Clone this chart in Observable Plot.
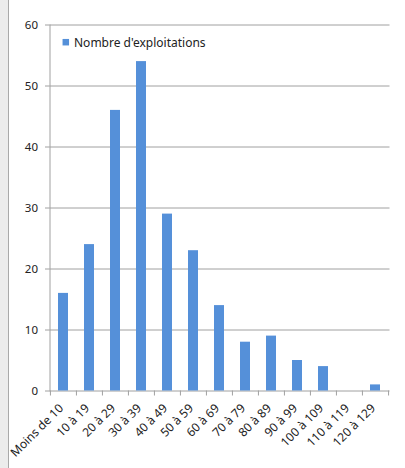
<!DOCTYPE html>
<html>
<head>
<meta charset="utf-8">
<script src="https://cdn.jsdelivr.net/npm/d3@7"></script>
<script src="https://cdn.jsdelivr.net/npm/@observablehq/plot@0.6"></script>
<style>
  html, body { margin: 0; padding: 0; background: #fff; }
  #wrap { position: relative; width: 405px; height: 468px; overflow: hidden; }
  #strip { position: absolute; left: 0; top: 0; width: 8px; height: 468px; background: #ececec; border-right: 1px solid #a9a9a9; z-index: 1; }
</style>
</head>
<body>
<div id="wrap"><div id="strip"></div></div>
<script>
// Farm counts by size class
const categories = ["Moins de 10", "10 à 19", "20 à 29", "30 à 39", "40 à 49", "50 à 59", "60 à 69",
                    "70 à 79", "80 à 89", "90 à 99", "100 à 109", "110 à 119", "120 à 129"];
const counts = [16, 24, 46, 54, 29, 23, 14, 8, 9, 5, 4, 0, 1];
const yTicks = [0, 10, 20, 30, 40, 50, 60];
const seriesName = "Nombre d'exploitations";

const data = categories.map((c, i) => ({classe: c, n: counts[i]}));

const W = 405, H = 468;
const mL = 49.5, mR = 15.5, mT = 24.5, mB = 77.5;
const step = (W - mL - mR) / categories.length;
const axisColor = "#a0a0a0";
const barColor = "#5590d9";
const textColor = "#222";

const chart = Plot.plot({
  width: W,
  height: H,
  marginLeft: mL,
  marginRight: mR,
  marginTop: mT,
  marginBottom: mB,
  style: {background: "transparent", fontFamily: "'Noto Sans', sans-serif", fontSize: "11.5px", color: textColor},
  x: {domain: categories, paddingInner: 0.6, paddingOuter: 0.3, axis: null},
  y: {domain: [0, 60], axis: null},
  marks: [
    // horizontal gridlines (the 0 line doubles as the x axis)
    Plot.ruleY(yTicks, {stroke: axisColor, strokeWidth: 1}),
    Plot.axisY({ticks: yTicks, tickSize: 4.5, tickPadding: 7.5, stroke: axisColor, fill: textColor, label: null}),
    Plot.frame({anchor: "left", stroke: axisColor}),
    Plot.barY(data, {x: "classe", y: "n", fill: barColor}),
    // tick marks at the class boundaries
    Plot.ruleX(categories, {x: d => d, y1: 0, y2: 0, dx: -step / 2, insetBottom: -5, stroke: axisColor}),
    Plot.ruleX(categories.slice(-1), {x: d => d, y1: 0, y2: 0, dx: step / 2, insetBottom: -5, stroke: axisColor}),
    // slanted class labels
    Plot.text(categories, {
      x: d => d, frameAnchor: "bottom", dx: 0.5, dy: 18, rotate: -45,
      textAnchor: "end", lineAnchor: "bottom", fill: textColor, fontSize: 12
    }),
    // legend
    Plot.dot([seriesName], {frameAnchor: "top-left", dx: 15.8, dy: 17.2, symbol: "square", r: 3.67, fill: barColor}),
    Plot.text([seriesName], {
      text: d => d, frameAnchor: "top-left", dx: 24, dy: 22,
      textAnchor: "start", lineAnchor: "bottom", fill: textColor, fontSize: 12
    })
  ]
});

document.getElementById("wrap").appendChild(chart);
</script>
</body>
</html>
